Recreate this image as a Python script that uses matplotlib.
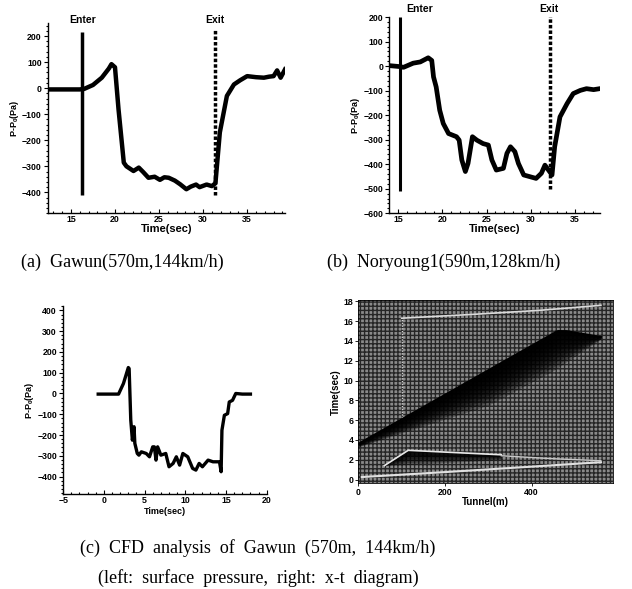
import numpy as np
import matplotlib
matplotlib.use("Agg")
import matplotlib.pyplot as plt
import matplotlib.ticker as ticker

# (a) Gawun measured
a_time = [12.4, 14.0, 16.0, 16.5, 17.5, 18.5, 19.3, 19.6, 20.0, 20.4, 21.0, 21.3, 22.1, 22.7,
          23.2, 23.8, 24.5, 25.1, 25.6, 26.1, 26.8, 27.4, 28.1, 28.6, 29.2, 29.6, 30.4, 31.0,
          31.4, 31.9, 32.7, 33.5, 34.2, 35.0, 36.0, 36.9, 37.5, 38.0, 38.4, 38.8, 39.3]
a_pres = [-5, -5, -5, -3, 12, 40, 75, 92, 80, -81, -286, -300, -318, -305,
          -322, -344, -340, -352, -342, -344, -355, -369, -388, -378, -370, -380, -370, -376,
          -365, -170, -30, 14, 30, 46, 42, 40, 44, 46, 68, 40, 72]
a_enter, a_exit = 16.3, 31.3

# (b) Noryoung1 measured
b_time = [14.0, 15.2, 15.6, 16.7, 17.5, 18.4, 18.8, 19.0, 19.3, 19.7, 20.1, 20.7, 21.6, 21.9,
          22.2, 22.6, 22.9, 23.4, 23.9, 24.6, 25.2, 25.6, 26.1, 26.9, 27.3, 27.7, 28.2, 28.6,
          29.2, 29.9, 30.6, 31.2, 31.6, 32.0, 32.4, 32.7, 33.3, 34.1, 34.8, 35.6, 36.3, 37.1, 37.8]
b_pres = [2, -2, -5, 12, 17, 34, 23, -44, -85, -180, -234, -275, -288, -302,
          -383, -430, -397, -288, -302, -316, -322, -383, -424, -417, -356, -329, -349, -397,
          -444, -451, -458, -437, -404, -424, -444, -329, -207, -153, -112, -99, -92, -96, -92]
b_enter, b_exit = 15.2, 32.2

# (c) CFD surface pressure
c_time = [-0.7, 1.8, 2.4, 3.0, 3.1, 3.3, 3.5, 3.7, 3.8, 4.1, 4.3, 4.6, 5.2, 5.6, 6.0, 6.2,
          6.4, 6.6, 7.0, 7.6, 8.0, 8.5, 8.9, 9.3, 9.7, 10.3, 10.9, 11.3, 11.7, 12.1, 12.8,
          13.4, 14.2, 14.4, 14.5, 14.8, 15.2, 15.4, 15.8, 16.2, 17.0, 18.0]
c_pres = [-3, -3, 48, 125, 120, -128, -225, -160, -240, -289, -297, -281, -289, -305, -257, -257,
          -321, -257, -297, -289, -353, -337, -305, -345, -289, -305, -361, -369, -337, -353, -321,
          -329, -329, -377, -177, -105, -97, -41, -33, 0, -3, -3]

# x-t diagram features (tunnel position m, time s)
wedge_top_x = [0, 460, 480, 560]
wedge_top_t = [3.6, 15.0, 15.0, 14.4]
wedge_bot_x = [0, 300, 450, 560]
wedge_bot_t = [3.3, 7.5, 11.0, 14.2]
tri_top_x = [60, 115, 330]
tri_top_t = [1.4, 2.95, 2.5]
tri_bot_x = [60, 330]
tri_bot_t = [1.4, 2.0]
lineA_x = [8, 200, 400, 560]
lineA_t = [0.25, 0.75, 1.3, 1.75]
lineC_x = [330, 450, 560]
lineC_t = [2.4, 2.1, 1.9]
vert_x = [100, 100]
vert_t = [6.2, 16.3]
top_x = [100, 270, 420, 560]
top_t = [16.3, 16.7, 17.1, 17.6]

sans = ["Liberation Sans", "DejaVu Sans"]
serif = ["Liberation Serif", "DejaVu Serif"]
plt.rcParams["font.family"] = sans
plt.rcParams["font.weight"] = "bold"
plt.rcParams["axes.labelweight"] = "bold"
plt.rcParams["font.size"] = 6.3
plt.rcParams["axes.linewidth"] = 1.0
plt.rcParams["hatch.linewidth"] = 1.0
plt.rcParams["mathtext.fontset"] = "custom"
plt.rcParams["mathtext.bf"] = "Liberation Sans:bold"
plt.rcParams["mathtext.rm"] = "Liberation Sans:bold"

fig = plt.figure(figsize=(6.32, 5.89), dpi=100)


def style_axes(ax):
    for s in ["top", "right"]:
        ax.spines[s].set_visible(False)
    ax.tick_params(axis="y", which="both", direction="out", length=3, width=0.8, pad=1.5)
    ax.tick_params(axis="y", which="minor", length=1.5)
    ax.tick_params(axis="x", which="both", direction="in", length=3, width=0.8, pad=1.5)
    ax.tick_params(axis="x", which="minor", length=1.5)
    ax.yaxis.set_minor_locator(ticker.MultipleLocator(20))
    ax.xaxis.set_minor_locator(ticker.MultipleLocator(1))


ylab = r"P-P$_\mathbf{0}$(Pa)"

# (a)
ax1 = fig.add_axes([0.076, 0.638, 0.375, 0.323])
ax1.plot(a_time, a_pres, color="black", lw=3.2, solid_joinstyle="round")
ax1.vlines(a_enter, -410, 215, color="black", lw=2.5)
ax1.vlines(a_exit, -410, 225, color="black", lw=2.5, linestyles=(0, (1, 0.6)))
ax1.set_xlim(12.4, 39.3)
ax1.set_ylim(-480, 250)
ax1.set_xticks([15, 20, 25, 30, 35])
ax1.set_yticks([-400, -300, -200, -100, 0, 100, 200])
ax1.set_xlabel("Time(sec)", fontsize=8, labelpad=0)
ax1.set_ylabel(ylab, fontsize=6.5, labelpad=1)
style_axes(ax1)
ax1.text(a_enter, 243, "Enter", ha="center", va="bottom", fontsize=7.5)
ax1.text(a_exit, 243, "Exit", ha="center", va="bottom", fontsize=7.5)

# (b)
ax2 = fig.add_axes([0.616, 0.638, 0.333, 0.333])
ax2.plot(b_time, b_pres, color="black", lw=3.4, solid_joinstyle="round")
ax2.vlines(b_enter, -510, 200, color="black", lw=2.2)
ax2.vlines(b_exit, -500, 205, color="black", lw=2.5, linestyles=(0, (1, 0.6)))
ax2.set_xlim(14.0, 37.8)
ax2.set_ylim(-600, 200)
ax2.set_xticks([15, 20, 25, 30, 35])
ax2.set_yticks([-600, -500, -400, -300, -200, -100, 0, 100, 200])
ax2.set_xlabel("Time(sec)", fontsize=8, labelpad=0)
ax2.set_ylabel(ylab, fontsize=6.5, labelpad=1)
style_axes(ax2)
ax2.text(17.4, 212, "Enter", ha="center", va="bottom", fontsize=7.5)
ax2.text(32.0, 212, "Exit", ha="center", va="bottom", fontsize=7.5)

# (c) left
ax3 = fig.add_axes([0.100, 0.161, 0.322, 0.319])
ax3.plot(c_time, c_pres, color="black", lw=2.4, solid_joinstyle="round")
ax3.set_xlim(-5, 20)
ax3.set_ylim(-485, 420)
ax3.set_xticks([-5, 0, 5, 10, 15, 20])
ax3.set_yticks([-400, -300, -200, -100, 0, 100, 200, 300, 400])
ax3.set_xlabel("Time(sec)", fontsize=6.5, labelpad=1)
ax3.set_ylabel(ylab, fontsize=6.5, labelpad=1)
style_axes(ax3)

# (c) right: x-t diagram
ax4 = fig.add_axes([0.567, 0.180, 0.403, 0.310])
ax4.set_xlim(0, 588)
ax4.set_ylim(-0.35, 18.1)
ax4.add_patch(plt.Rectangle((0, -0.35), 588, 18.45, facecolor="#8a8a8a",
                            edgecolor="#262626", hatch="++++", lw=0, zorder=0))
ax4.plot(vert_x, vert_t, color="#d0d0d0", lw=1.0, ls=(0, (1, 1)))
ax4.plot(top_x, top_t, color="#dadada", lw=1.2)

xs = np.linspace(0, 560, 200)
t_top = np.interp(xs, wedge_top_x, wedge_top_t)
t_bot = np.interp(xs, wedge_bot_x, wedge_bot_t)
for f in np.linspace(1.0, 0.15, 10):
    ax4.fill_between(xs, t_top - f * (t_top - t_bot), t_top, color="black", alpha=0.3, lw=0)
ax4.plot(xs, t_top, color="black", lw=1.5)

xs2 = np.linspace(60, 330, 100)
tt = np.interp(xs2, tri_top_x, tri_top_t)
tb = np.interp(xs2, tri_bot_x, tri_bot_t)
for f in np.linspace(1.0, 0.3, 6):
    ax4.fill_between(xs2, tt - f * (tt - tb), tt, color="black", alpha=0.3, lw=0)

ax4.plot(tri_top_x, tri_top_t, color="#e8e8e8", lw=1.2)
ax4.plot(lineA_x, lineA_t, color="#e0e0e0", lw=1.5)
ax4.plot(lineC_x, lineC_t, color="#c8c8c8", lw=1.0)

ax4.set_xticks([0, 200, 400])
ax4.set_yticks(np.arange(0, 19, 2))
ax4.tick_params(direction="out", length=2, width=0.6, pad=1.5)
ax4.set_xlabel("Tunnel(m)", fontsize=7, labelpad=0)
ax4.set_ylabel("Time(sec)", fontsize=7, labelpad=2)
for s in ax4.spines.values():
    s.set_linewidth(0.6)

# captions
cap = dict(family=serif, weight="normal", fontsize=13, ha="center", va="center")
fig.text(122 / 632, 1 - 262 / 589, "(a)  Gawun(570m,144km/h)", **cap)
fig.text(444 / 632, 1 - 262 / 589, "(b)  Noryoung1(590m,128km/h)", **cap)
fig.text(258 / 632, 1 - 548 / 589, "(c)  CFD  analysis  of  Gawun  (570m,  144km/h)", **cap)
fig.text(258 / 632, 1 - 578 / 589, "(left:  surface  pressure,  right:  x-t  diagram)", **cap)

fig.savefig("out.png", dpi=100)
